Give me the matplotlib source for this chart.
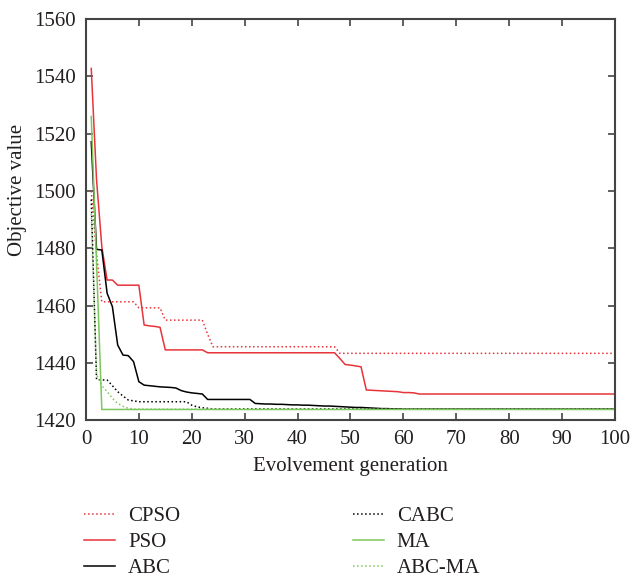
import numpy as np
import matplotlib
matplotlib.use("Agg")
import matplotlib.pyplot as plt

plt.rcParams['font.family'] = ['Liberation Serif', 'DejaVu Serif']

gens = np.arange(1, 101)

# values, one list per algorithm (generation 1..100)
cpso = ([1500, 1478] + [1461.3] * 7 + [1459.2] * 5 + [1454.9] * 8
        + [1450.0] + [1445.6] * 24 + [1443.3] * 53)
pso = ([1542.8, 1504, 1480.5, 1468.9, 1468.9] + [1467.1] * 5
       + [1453.2, 1452.9, 1452.7, 1452.4] + [1444.5] * 8 + [1443.5] * 25
       + [1441.5, 1439.4, 1439.2, 1438.9, 1438.6, 1430.5, 1430.4, 1430.3,
          1430.2, 1430.1, 1430.0, 1429.9, 1429.6, 1429.6, 1429.5, 1429.1]
       + [1429.1] * 37)
abc = ([1517.2, 1479.6, 1479.4, 1464.3, 1459.6, 1446.2, 1442.7, 1442.5,
        1440.4, 1433.4, 1432.2, 1432.0, 1431.8, 1431.6, 1431.5, 1431.4,
        1431.2, 1430.3, 1429.8, 1429.5, 1429.3, 1429.1]
       + [1427.2] * 9
       + [1425.8, 1425.7, 1425.6, 1425.6, 1425.5, 1425.5, 1425.4, 1425.3,
          1425.3, 1425.2, 1425.2, 1425.1, 1425.0, 1424.9, 1424.9, 1424.8,
          1424.7, 1424.6, 1424.5, 1424.4, 1424.4, 1424.3, 1424.2, 1424.1,
          1424.0, 1424.0, 1423.9, 1423.9]
       + [1423.8] * 41)
cabc = ([1497, 1434.2, 1434.0, 1434.0, 1432.0, 1429.9, 1428.4, 1427.0,
         1426.7] + [1426.4] * 10 + [1425.2, 1424.6, 1424.3, 1424.1]
        + [1423.9] * 77)
ma = [1526.0, 1475.0] + [1423.7] * 98
abc_ma = ([1492, 1436, 1432, 1429.9, 1427.6, 1425.8, 1424.8, 1424.1]
          + [1423.8] * 92)

series = [
    ("CPSO", cpso, "#e8333a", ":"),
    ("PSO", pso, "#e8333a", "-"),
    ("ABC", abc, "black", "-"),
    ("CABC", cabc, "black", ":"),
    ("MA", ma, "#7dc65e", "-"),
    ("ABC-MA", abc_ma, "#7dc65e", ":"),
]

txt = '#231f20'

fig = plt.figure(figsize=(6.32, 5.81), dpi=100)
ax = fig.add_axes([0.136, 0.277, 0.837, 0.690])

for name, vals, color, ls in series:
    ax.plot(gens, vals, color=color, linestyle=ls, linewidth=1.1, label=name)

ax.set_xlim(0, 100)
ax.set_ylim(1420, 1560)
ax.set_xticks(np.arange(0, 101, 10))
ax.set_yticks(np.arange(1420, 1561, 20))
ax.tick_params(direction='in', top=True, right=True, length=5, width=1.2,
               labelsize=15, colors='#444444', labelcolor=txt, pad=7)
for sp in ax.spines.values():
    sp.set_linewidth(1.5)
    sp.set_color('#444444')

ax.set_xlabel('Evolvement generation', fontsize=15, color=txt)
ax.set_ylabel('Objective value', fontsize=15, color=txt)
ax.xaxis.set_label_coords(0.5, -0.092)
ax.yaxis.set_label_coords(-0.112, 0.574)

ax.legend(ncol=2, loc='upper left', bbox_to_anchor=(-0.019, -0.195),
          frameon=False, fontsize=15, handlelength=1.5, handletextpad=0.6,
          columnspacing=8.3, labelspacing=0.3, borderaxespad=0,
          labelcolor=txt)

fig.savefig('out.png', dpi=100)
